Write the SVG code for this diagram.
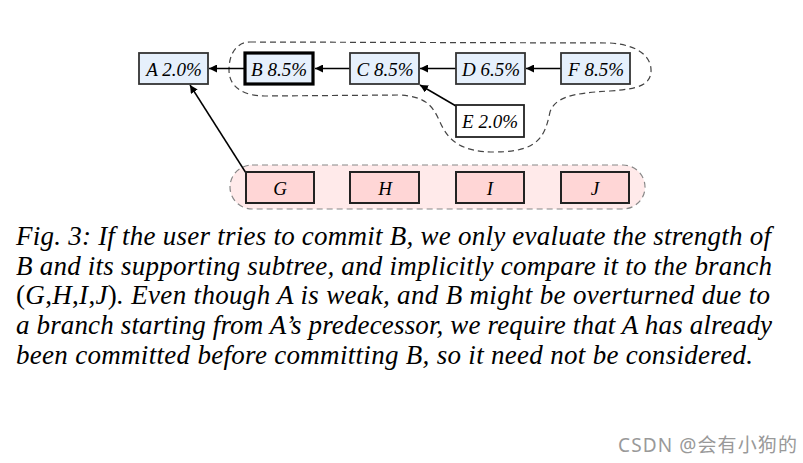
<svg xmlns="http://www.w3.org/2000/svg" width="803" height="463" viewBox="0 0 803 463">
<style>
.nb{fill:#e6f0fc;stroke:#333;stroke-width:1.8}
.nw{fill:#fff;stroke:#222;stroke-width:1.8}
.np{fill:#ffd6d6;stroke:#222;stroke-width:2}
.lbl{font-family:"Liberation Serif",serif;font-style:italic;font-size:19px;fill:#000;text-anchor:middle}
.cap{font-family:"Liberation Serif",serif;font-style:italic;font-size:27px;fill:#000}
.up{font-style:normal}
.edge{stroke:#000;stroke-width:1.5;fill:none;marker-end:url(#ah)}
</style>
<defs>
<marker id="ah" viewBox="0 0 10 10" refX="10" refY="5" markerWidth="8" markerHeight="8" markerUnits="userSpaceOnUse" orient="auto">
<path d="M0,0 L10,5 L0,10 Z" fill="#000"/>
</marker>
</defs>
<rect width="803" height="463" fill="#fff"/>
<g id="groups">
<rect x="230" y="165" width="415" height="44" rx="22" ry="22" fill="#ffeaea" stroke="#888" stroke-width="1.2" stroke-dasharray="6,4"/>
<path d="M250,42 L610,43 C640,45 652,58 651,72 C650,85 638,89 610,91 C570,93 555,98 550,112 C545,135 540,152 495,152 C460,152 448,140 440,122 C432,104 425,97 400,95 L265,96 C245,96 229,88 229,70 C229,52 238,42 250,42 Z" fill="none" stroke="#444" stroke-width="1.2" stroke-dasharray="6,4"/>
</g>
<g id="connectors">
<line class="edge" x1="244" y1="68.5" x2="209" y2="68.5"/>
<line class="edge" x1="350" y1="68.5" x2="315" y2="68.5"/>
<line class="edge" x1="456" y1="68.5" x2="420" y2="68.5"/>
<line class="edge" x1="561" y1="68.5" x2="526" y2="68.5"/>
<line class="edge" x1="456" y1="106" x2="420" y2="85"/>
<line class="edge" x1="246" y1="173" x2="190" y2="85"/>
</g>
<g id="A"><rect class="nb" x="139" y="53" width="69" height="31"/><text class="lbl" x="174" y="76">A 2.0%</text></g>
<g id="B"><rect class="nb" x="245" y="53" width="68" height="31" style="stroke:#000;stroke-width:3.2"/><text class="lbl" x="279" y="76">B 8.5%</text></g>
<g id="C"><rect class="nb" x="350" y="53" width="69" height="31"/><text class="lbl" x="385" y="76">C 8.5%</text></g>
<g id="D"><rect class="nb" x="456" y="53" width="69" height="31"/><text class="lbl" x="491" y="76">D 6.5%</text></g>
<g id="F"><rect class="nb" x="561" y="53" width="69" height="31"/><text class="lbl" x="596" y="76">F 8.5%</text></g>
<g id="E"><rect class="nw" x="456" y="105" width="68" height="32"/><text class="lbl" x="490" y="128">E 2.0%</text></g>
<g id="G"><rect class="np" x="246" y="172" width="68" height="31"/><text class="lbl" x="280" y="195">G</text></g>
<g id="H"><rect class="np" x="350" y="172" width="69" height="31"/><text class="lbl" x="385" y="195">H</text></g>
<g id="I"><rect class="np" x="456" y="172" width="68" height="31"/><text class="lbl" x="490" y="195">I</text></g>
<g id="J"><rect class="np" x="561" y="172" width="68" height="31"/><text class="lbl" x="595" y="195">J</text></g>
<g id="caption">
<text class="cap" x="16" y="245" textLength="755" lengthAdjust="spacing">Fig. 3: If the user tries to commit B, we only evaluate the strength of</text>
<text class="cap" x="16" y="275" textLength="756" lengthAdjust="spacing">B and its supporting subtree, and implicitly compare it to the branch</text>
<text class="cap" x="16" y="304" textLength="754" lengthAdjust="spacing"><tspan class="up">(</tspan>G<tspan class="up">,</tspan>H<tspan class="up">,</tspan>I<tspan class="up">,</tspan>J<tspan class="up">)</tspan>. Even though A is weak, and B might be overturned due to</text>
<text class="cap" x="16" y="334" textLength="756" lengthAdjust="spacing">a branch starting from A’s predecessor, we require that A has already</text>
<text class="cap" x="16" y="364" textLength="737" lengthAdjust="spacing">been committed before committing B, so it need not be considered.</text>
</g>
<text x="618" y="452" font-family="'Noto Sans','Noto Sans CJK SC',sans-serif" font-size="19" fill="#999" textLength="179" lengthAdjust="spacing">CSDN @会有小狗的</text>
</svg>
